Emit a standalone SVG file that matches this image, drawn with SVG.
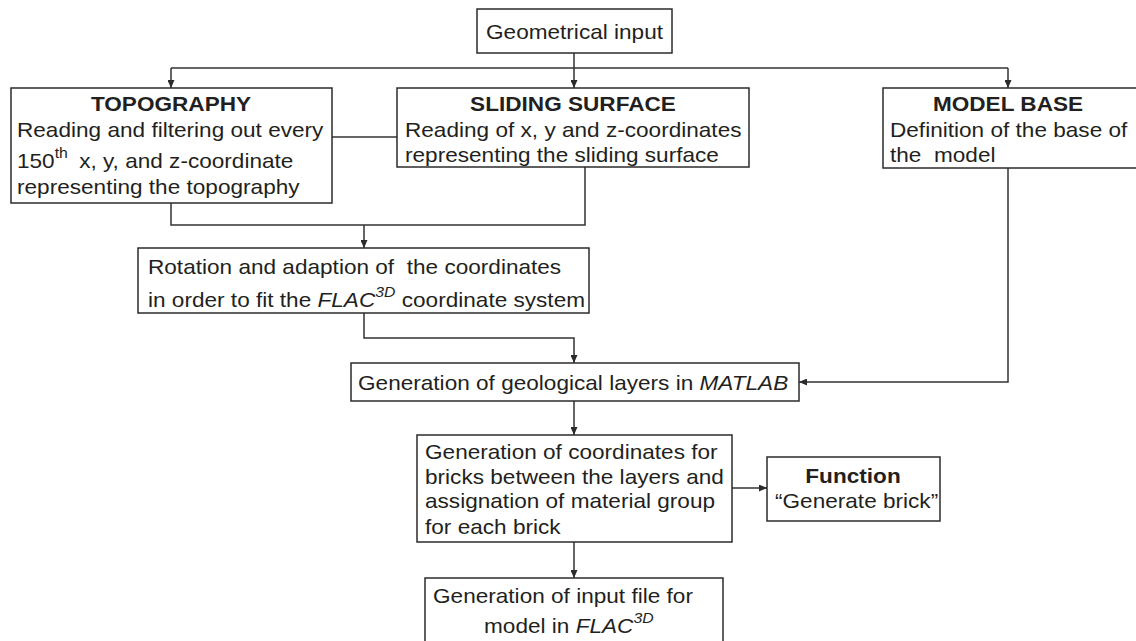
<svg xmlns="http://www.w3.org/2000/svg" width="1136" height="641" viewBox="0 0 1136 641">
  <style>
    .box { fill: #ffffff; stroke: #2b2b2b; stroke-width: 1.5; }
    .ln { fill: none; stroke: #333333; stroke-width: 1.5; }
    .t { font-family: "Liberation Sans", Arial, Helvetica, sans-serif; font-size: 20px; fill: #231f20; white-space: pre; }
    .b { font-weight: bold; }
    .c { text-anchor: middle; }
    .i { font-style: italic; }
    .sup { font-size: 14px; font-style: italic; }
  </style>
  <defs>
    <marker id="arrow" markerUnits="userSpaceOnUse" markerWidth="8" markerHeight="7" refX="8" refY="3.5" orient="auto">
      <path d="M0,0 L8,3.5 L0,7 z" fill="#2b2b2b"/>
    </marker>
  </defs>

  <rect width="1136" height="641" fill="#ffffff"/>

  <!-- connectors -->
  <g id="connectors">
    <!-- fan-out from the geometrical input -->
    <path class="ln" d="M574,53 V88" marker-end="url(#arrow)"/>
    <path class="ln" d="M171,68 H1008"/>
    <path class="ln" d="M171,68 V88" marker-end="url(#arrow)"/>
    <path class="ln" d="M1008,68 V88" marker-end="url(#arrow)"/>
    <!-- link between topography and sliding surface -->
    <path class="ln" d="M332,137 H397"/>
    <!-- merge into rotation step -->
    <path class="ln" d="M171,203 V225 H585 V167"/>
    <path class="ln" d="M364,225 V248" marker-end="url(#arrow)"/>
    <!-- rotation to MATLAB layers -->
    <path class="ln" d="M364,313 V338 H574 V363" marker-end="url(#arrow)"/>
    <!-- model base to MATLAB layers -->
    <path class="ln" d="M1008,168 V382 H799" marker-end="url(#arrow)"/>
    <!-- layers to bricks -->
    <path class="ln" d="M574,401 V435" marker-end="url(#arrow)"/>
    <!-- bricks to function -->
    <path class="ln" d="M732,488 H767" marker-end="url(#arrow)"/>
    <!-- bricks to input file -->
    <path class="ln" d="M574,542 V578" marker-end="url(#arrow)"/>
  </g>

  <g id="geometrical-input">
    <rect class="box" x="477" y="9" width="195" height="44"/>
    <text class="t" transform="matrix(1.13 0 0 1 486 39)">Geometrical input</text>
  </g>

  <g id="topography">
    <rect class="box" x="11" y="88" width="321" height="115"/>
    <text class="t b c" transform="matrix(1.13 0 0 1 171 111)">TOPOGRAPHY</text>
    <text class="t" transform="matrix(1.13 0 0 1 17 137)">Reading and filtering out every</text>
    <text class="t" transform="matrix(1.13 0 0 1 17 168)">150<tspan class="sup" style="font-style:normal" dy="-10">th</tspan><tspan x="55" dy="10">x, y, and z-coordinate</tspan></text>
    <text class="t" transform="matrix(1.13 0 0 1 17 194)">representing the topography</text>
  </g>

  <g id="sliding-surface">
    <rect class="box" x="397" y="88" width="352" height="79"/>
    <text class="t b c" transform="matrix(1.13 0 0 1 573 111)">SLIDING SURFACE</text>
    <text class="t" transform="matrix(1.13 0 0 1 405 137)">Reading of x, y and z-coordinates</text>
    <text class="t" transform="matrix(1.13 0 0 1 405 162)">representing the sliding surface</text>
  </g>

  <g id="model-base">
    <rect class="box" x="883" y="88" width="260" height="80"/>
    <text class="t b c" transform="matrix(1.13 0 0 1 1008 111)">MODEL BASE</text>
    <text class="t" transform="matrix(1.13 0 0 1 890 137)">Definition of the base of</text>
    <text class="t" transform="matrix(1.13 0 0 1 890 162)">the  model</text>
  </g>

  <g id="rotation">
    <rect class="box" x="138" y="248" width="451" height="65"/>
    <text class="t" transform="matrix(1.13 0 0 1 148 274)">Rotation and adaption of  the coordinates</text>
    <text class="t" transform="matrix(1.13 0 0 1 148 307)">in order to fit the <tspan class="i">FLAC</tspan><tspan class="sup" dy="-10">3D</tspan><tspan dy="10"> coordinate system</tspan></text>
  </g>

  <g id="matlab-layers">
    <rect class="box" x="351" y="363" width="448" height="38"/>
    <text class="t" transform="matrix(1.13 0 0 1 358 390)">Generation of geological layers in <tspan class="i">MATLAB</tspan></text>
  </g>

  <g id="bricks">
    <rect class="box" x="417" y="435" width="315" height="107"/>
    <text class="t" transform="matrix(1.13 0 0 1 425 459)">Generation of coordinates for</text>
    <text class="t" transform="matrix(1.13 0 0 1 425 484)">bricks between the layers and</text>
    <text class="t" transform="matrix(1.13 0 0 1 425 508)">assignation of material group</text>
    <text class="t" transform="matrix(1.13 0 0 1 425 534)">for each brick</text>
  </g>

  <g id="function">
    <rect class="box" x="767" y="457" width="173" height="64"/>
    <text class="t b c" transform="matrix(1.13 0 0 1 853 483)">Function</text>
    <text class="t" transform="matrix(1.13 0 0 1 775 508)">“Generate brick”</text>
  </g>

  <g id="input-file">
    <rect class="box" x="425" y="578" width="298" height="72"/>
    <text class="t" transform="matrix(1.13 0 0 1 433 603)">Generation of input file for</text>
    <text class="t" transform="matrix(1.13 0 0 1 484 633)">model in <tspan class="i">FLAC</tspan><tspan class="sup" dy="-10">3D</tspan></text>
  </g>
</svg>
